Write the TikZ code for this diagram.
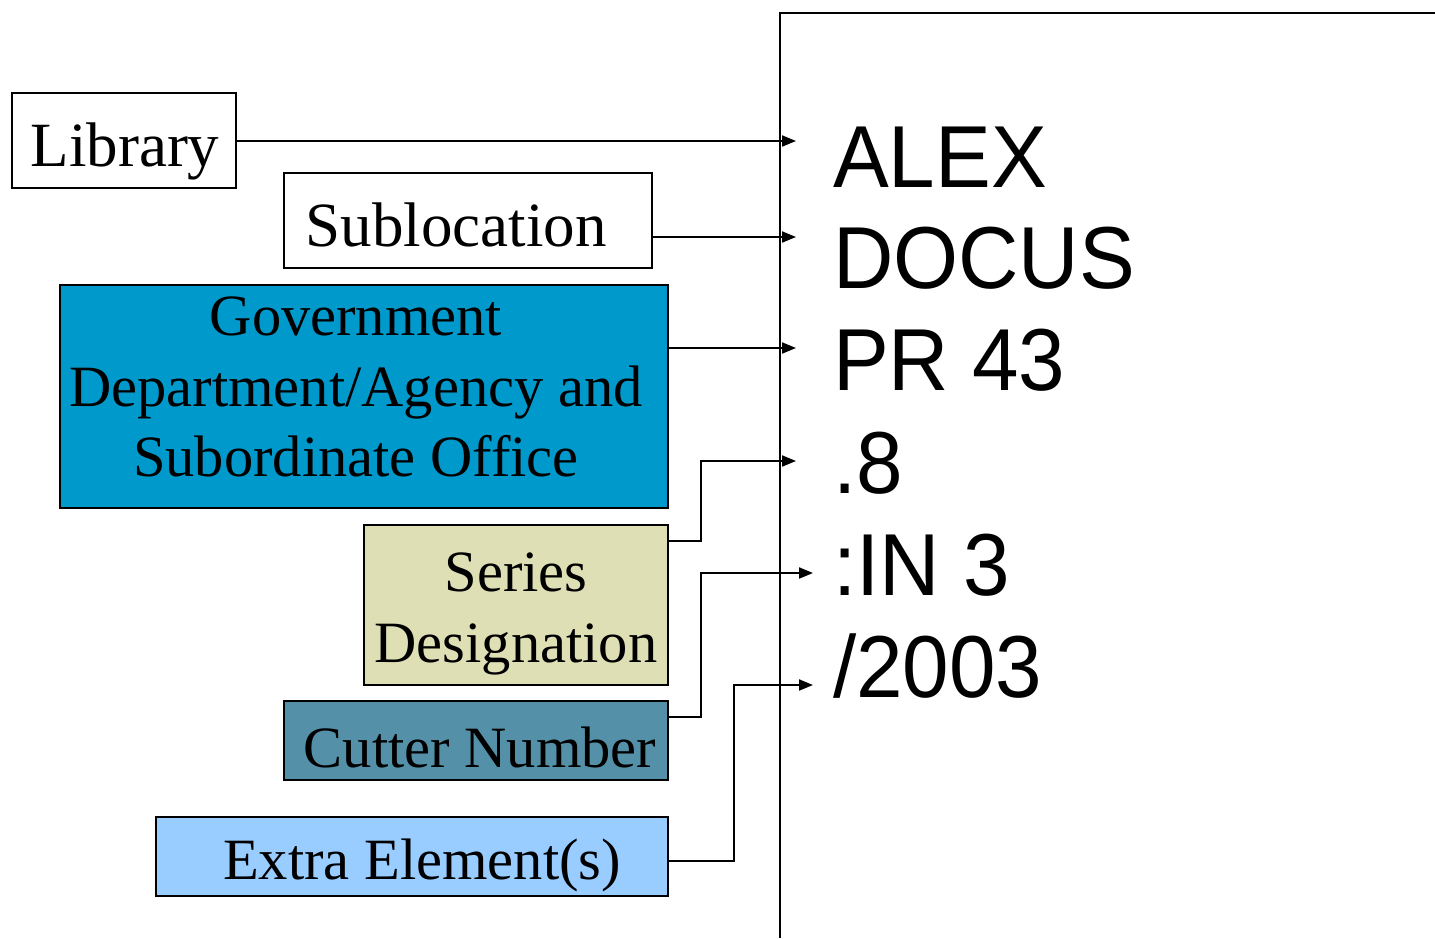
\documentclass[tikz,border=0pt]{standalone}
\usepackage{fontspec}
\setmainfont{Liberation Serif}
\newfontfamily\arialf[FakeStretch=0.95]{Liberation Sans}
\usetikzlibrary{arrows.meta}
\definecolor{govblue}{HTML}{0099CC}
\definecolor{seriesc}{HTML}{DFDFB6}
\definecolor{cutterc}{HTML}{5590A9}
\definecolor{extrac}{HTML}{99CCFF}
\begin{document}
\begin{tikzpicture}[x=1pt,y=-1pt,
  lbox/.style={draw=black,line width=2pt,inner sep=0pt},
  bigtxt/.style={anchor=base,inner sep=0pt,font=\fontsize{63}{70}\selectfont},
  smalltxt/.style={anchor=base,inner sep=0pt,font=\fontsize{58.5}{70}\selectfont},
  conn/.style={line width=2pt,-{Triangle[length=14pt,width=11pt]}},
  calltext/.style={anchor=base west,inner sep=0pt,font=\arialf\fontsize{88}{90}\selectfont}]
\useasboundingbox (0,0) rectangle (1435,938);
\draw[line width=2pt] (780,938) -- (780,13) -- (1436,13);
% boxes
\node[lbox,minimum width=224pt,minimum height=95pt] (lib) at (124,140.5) {};
\node[lbox,minimum width=368pt,minimum height=95pt] (sub) at (468,220.5) {};
\node[lbox,fill=govblue,minimum width=608pt,minimum height=223pt] (gov) at (364,396.5) {};
\node[lbox,fill=seriesc,minimum width=304pt,minimum height=160pt] (ser) at (516,605) {};
\node[lbox,fill=cutterc,minimum width=384pt,minimum height=79pt] (cut) at (476,740.5) {};
\node[lbox,fill=extrac,minimum width=512pt,minimum height=79pt] (ext) at (412,856.5) {};
% box texts
\node[bigtxt] (libt) at (125,166) {Library};
\node[bigtxt] (subt) at (456,246) {Sublocation};
\node[smalltxt] (govt1) at (356,335) {Government};
\node[smalltxt] (govt2) at (356,406) {Department/Agency and};
\node[smalltxt] (govt3) at (356,476) {Subordinate Office};
\node[smalltxt] (sert1) at (516,591) {Series};
\node[smalltxt] (sert2) at (516,662) {Designation};
\node[smalltxt] (cutt) at (480,767) {Cutter Number};
\node[smalltxt] (extt) at (422,879) {Extra Element(s)};
% call number
\node[calltext] (c1) at (833,187) {ALEX};
\node[calltext] (c2) at (833,288) {DOCUS};
\node[calltext] (c3) at (833,390) {PR 43};
\node[calltext] (c4) at (833,493) {.8};
\node[calltext] (c5) at (833,595) {:IN 3};
\node[calltext] (c6) at (833,697) {/2003};
% arrow targets
\coordinate (t1) at (796,141);
\coordinate (t2) at (796,237);
\coordinate (t3) at (796,348);
\coordinate (t4) at (796,461);
\coordinate (t5) at (813,573);
\coordinate (t6) at (813,685);
\draw[conn] (lib.east |- t1) -- (t1);
\draw[conn] (sub.east |- t2) -- (t2);
\draw[conn] (gov.east |- t3) -- (t3);
\draw[conn] (ser.east) ++(0,-64) -- ++(32,0) |- (t4);
\draw[conn] (cut.east) ++(0,-23.5) -- ++(32,0) |- (t5);
\draw[conn] (ext.east) ++(0,4.5) -- ++(65,0) |- (t6);
\end{tikzpicture}
\end{document}
